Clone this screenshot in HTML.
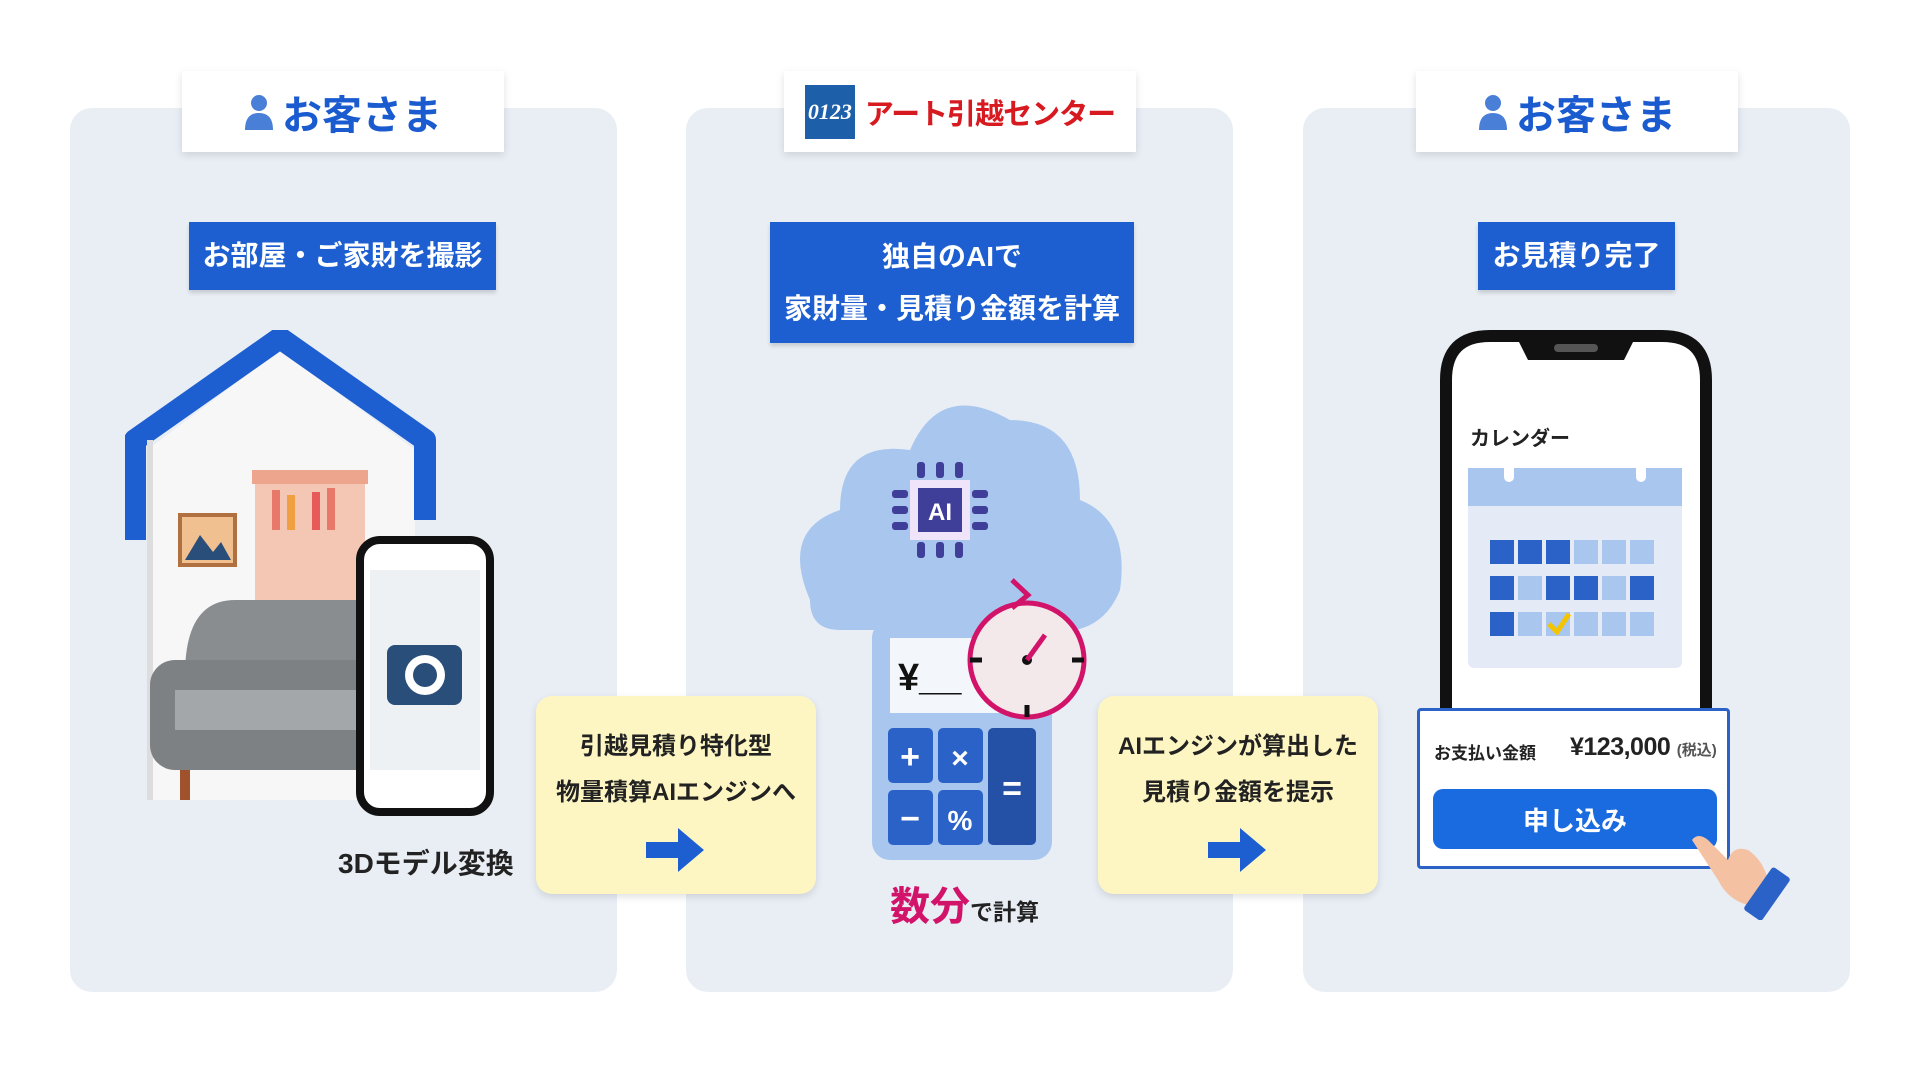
<!DOCTYPE html>
<html><head><meta charset="utf-8"><style>
*{margin:0;padding:0;box-sizing:border-box}
body{width:1920px;height:1080px;background:#fff;position:relative;overflow:hidden;font-family:"Liberation Sans","Noto Sans CJK JP",sans-serif;font-weight:bold}
.abs{position:absolute;white-space:nowrap}
.panel{position:absolute;top:108px;width:547px;height:884px;background:#e9eef5;border-radius:22px}
.tab{position:absolute;top:71px;height:81px;background:#fff;box-shadow:0 3px 8px rgba(0,0,0,.12);display:flex;align-items:center;justify-content:center;font-size:40px;color:#1a5bd0;white-space:nowrap}
.lbl{position:absolute;background:#1d5fd1;color:#fff;font-size:29px;display:flex;align-items:center;justify-content:center;text-align:center;line-height:52px;box-shadow:0 3px 4px rgba(0,0,0,.15);white-space:nowrap}
.ybox{position:absolute;top:696px;width:280px;height:198px;background:#fdf6c3;border-radius:16px;box-shadow:0 3px 8px rgba(0,0,0,.12);text-align:center;font-size:24px;line-height:46px;padding-top:28px;color:#222;white-space:nowrap}
.arr{position:absolute;left:110px;top:130px}
.user{display:inline-block;width:30px;height:40px;margin-right:8px;vertical-align:middle}
</style></head><body>
<div class="panel" style="left:70px"></div>
<div class="panel" style="left:686px"></div>
<div class="panel" style="left:1303px"></div>

<div class="tab" style="left:182px;width:322px"><svg class="user" viewBox="0 0 30 40"><circle cx="15" cy="11" r="8" fill="#4a7fd8"/><path d="M1 38 Q1 21 15 21 Q29 21 29 38Z" fill="#4a7fd8"/></svg>お客さま</div>
<div class="tab" style="left:784px;width:352px;color:#d71920;font-size:29px;letter-spacing:-1px"><span style="background:#1d5fa8;color:#fff;font-style:italic;font-size:22px;padding:14px 3px;margin-right:10px;font-family:'Liberation Serif',serif;letter-spacing:0">0123</span>アート引越センター</div>
<div class="tab" style="left:1416px;width:322px"><svg class="user" viewBox="0 0 30 40"><circle cx="15" cy="11" r="8" fill="#4a7fd8"/><path d="M1 38 Q1 21 15 21 Q29 21 29 38Z" fill="#4a7fd8"/></svg>お客さま</div>

<div class="lbl" style="left:189px;top:222px;width:307px;height:68px;font-size:28px">お部屋・ご家財を撮影</div>
<div class="lbl" style="left:770px;top:222px;width:364px;height:121px;font-size:28px">独自のAIで<br>家財量・見積り金額を計算</div>
<div class="lbl" style="left:1478px;top:222px;width:197px;height:68px;font-size:28px">お見積り完了</div>

<!-- panel1 illustration -->
<svg class="abs" style="left:125px;top:330px" width="400" height="500" viewBox="0 0 400 500">
<path d="M22 470 V120 L155 20 L290 120 V470Z" fill="#f7f7f7"/>
<path d="M10 210 V110 L155 8 L300 110 V190" fill="none" stroke="#1d5fd1" stroke-width="22" stroke-linejoin="round"/>
<rect x="22" y="110" width="6" height="360" fill="#ddd"/>
<rect x="130" y="140" width="110" height="150" fill="#f4c6b4"/>
<rect x="127" y="140" width="116" height="14" fill="#eea58d"/>
<rect x="147" y="160" width="8" height="40" fill="#e8786a"/><rect x="162" y="165" width="8" height="35" fill="#f0a040"/><rect x="187" y="162" width="8" height="38" fill="#e85a5a"/><rect x="202" y="158" width="8" height="42" fill="#e8786a"/>
<rect x="55" y="185" width="55" height="50" fill="#f0c090" stroke="#b07040" stroke-width="4"/><path d="M60 230 L75 205 L88 222 L96 212 L106 230Z" fill="#2a4e7a"/>
<path d="M60 345 Q60 270 110 270 H230 Q260 270 260 345Z" fill="#8a8d90"/>
<rect x="25" y="330" width="280" height="110" rx="25" fill="#7e8184"/>
<rect x="50" y="360" width="230" height="40" fill="#a4a7aa"/>
<rect x="55" y="440" width="10" height="30" fill="#a0522d"/><rect x="275" y="440" width="10" height="30" fill="#a0522d"/>
<rect x="235" y="210" width="130" height="272" rx="20" fill="#fff" stroke="#111" stroke-width="8"/>
<rect x="245" y="240" width="110" height="200" fill="#eef1f4"/>
<rect x="262" y="315" width="75" height="60" rx="8" fill="#2a4e7a"/><circle cx="300" cy="345" r="20" fill="#fff"/><circle cx="300" cy="345" r="12" fill="#2a4e7a"/>
</svg>
<div class="abs" style="left:338px;top:842px;font-size:28px;color:#222">3Dモデル変換</div>

<!-- panel2 illustration -->
<svg class="abs" style="left:780px;top:380px" width="360" height="500" viewBox="0 0 360 500">
<path d="M30 220 Q0 150 60 130 Q60 60 130 70 Q160 0 230 40 Q300 40 300 120 Q350 140 340 210 Q320 260 260 250 H60 Q30 250 30 220Z" fill="#a9c7ee"/>
<rect x="130" y="100" width="60" height="60" fill="#f0e4fb"/><rect x="138" y="108" width="44" height="44" fill="#3f3f9a"/>
<text x="160" y="140" font-size="24" fill="#fff" text-anchor="middle" font-family="Liberation Sans">AI</text>
<g fill="#3f3f9a"><rect x="137" y="82" width="8" height="16" rx="3"/><rect x="156" y="82" width="8" height="16" rx="3"/><rect x="175" y="82" width="8" height="16" rx="3"/><rect x="137" y="162" width="8" height="16" rx="3"/><rect x="156" y="162" width="8" height="16" rx="3"/><rect x="175" y="162" width="8" height="16" rx="3"/><rect x="112" y="110" width="16" height="8" rx="3"/><rect x="112" y="126" width="16" height="8" rx="3"/><rect x="112" y="142" width="16" height="8" rx="3"/><rect x="192" y="110" width="16" height="8" rx="3"/><rect x="192" y="126" width="16" height="8" rx="3"/><rect x="192" y="142" width="16" height="8" rx="3"/></g>
<rect x="92" y="240" width="180" height="240" rx="18" fill="#a9c7ee"/>
<rect x="110" y="258" width="120" height="75" fill="#f3f6fb"/>
<text x="118" y="310" font-size="38" fill="#111" font-family="Liberation Sans">¥__</text>
<rect x="108" y="348" width="45" height="55" rx="5" fill="#2a62c8"/><rect x="158" y="348" width="45" height="55" rx="5" fill="#2a62c8"/>
<rect x="108" y="410" width="45" height="55" rx="5" fill="#2a62c8"/><rect x="158" y="410" width="45" height="55" rx="5" fill="#2a62c8"/>
<rect x="208" y="348" width="48" height="117" rx="5" fill="#2450a5"/>
<text x="130" y="388" font-size="34" fill="#fff" text-anchor="middle">+</text><text x="180" y="388" font-size="30" fill="#fff" text-anchor="middle">×</text><text x="130" y="450" font-size="34" fill="#fff" text-anchor="middle">−</text><text x="180" y="450" font-size="28" fill="#fff" text-anchor="middle">%</text><text x="232" y="420" font-size="34" fill="#fff" text-anchor="middle">=</text>
<circle cx="247" cy="280" r="57" fill="#f3e9ea" stroke="#d2136a" stroke-width="5"/>
<path d="M190 280 h12 M292 280 h12 M247 325 v12" stroke="#111" stroke-width="5"/>
<circle cx="247" cy="280" r="5" fill="#111"/><path d="M247 280 L265 255" stroke="#d2136a" stroke-width="5"/>
<path d="M232 200 L248 215 L232 228" fill="none" stroke="#d2136a" stroke-width="5"/>
</svg>
<div class="abs" style="left:890px;top:874px;color:#d2136a;font-size:40px">数分<span style="font-size:23px;color:#222">で計算</span></div>

<div class="ybox" style="left:536px">引越見積り特化型<br>物量積算AIエンジンへ
<svg class="arr" width="60" height="48" viewBox="0 0 60 48"><rect x="0" y="16" width="34" height="16" fill="#1d5fd1"/><path d="M32 2 L58 24 L32 46Z" fill="#1d5fd1"/></svg></div>
<div class="ybox" style="left:1098px">AIエンジンが算出した<br>見積り金額を提示
<svg class="arr" width="60" height="48" viewBox="0 0 60 48"><rect x="0" y="16" width="34" height="16" fill="#1d5fd1"/><path d="M32 2 L58 24 L32 46Z" fill="#1d5fd1"/></svg></div>

<!-- panel3 phone -->
<svg class="abs" style="left:1436px;top:330px" width="280" height="400" viewBox="0 0 280 400">
<path d="M10 400 V50 Q10 6 54 6 H226 Q270 6 270 50 V400" fill="#fff" stroke="#111" stroke-width="12"/>
<path d="M80 6 H200 L188 30 H92Z" fill="#111"/><rect x="118" y="14" width="44" height="8" rx="4" fill="#555"/>
<rect x="32" y="138" width="214" height="200" rx="6" fill="#e4ebf6"/>
<rect x="32" y="138" width="214" height="38" fill="#a9c7ee"/>
<rect x="68" y="130" width="10" height="22" rx="5" fill="#fff"/><rect x="200" y="130" width="10" height="22" rx="5" fill="#fff"/>
<g fill="#2a62c8">
<rect x="54" y="210" width="24" height="24"/><rect x="82" y="210" width="24" height="24"/><rect x="110" y="210" width="24" height="24"/>
<rect x="54" y="246" width="24" height="24"/><rect x="110" y="246" width="24" height="24"/><rect x="138" y="246" width="24" height="24"/><rect x="194" y="246" width="24" height="24"/>
<rect x="54" y="282" width="24" height="24"/></g>
<g fill="#a9c7ee"><rect x="138" y="210" width="24" height="24"/><rect x="166" y="210" width="24" height="24"/><rect x="194" y="210" width="24" height="24"/><rect x="82" y="246" width="24" height="24"/><rect x="166" y="246" width="24" height="24"/><rect x="82" y="282" width="24" height="24"/><rect x="110" y="282" width="24" height="24"/><rect x="138" y="282" width="24" height="24"/><rect x="166" y="282" width="24" height="24"/><rect x="194" y="282" width="24" height="24"/></g>
<path d="M113 294 L121 302 L133 284" fill="none" stroke="#f5c400" stroke-width="5"/>
</svg>
<div class="abs" style="left:1470px;top:422px;font-size:20px;color:#222">カレンダー</div>
<div class="abs" style="left:1417px;top:708px;width:313px;height:161px;background:#fff;border:3px solid #2a62c8;border-radius:4px">
<div class="abs" style="left:14px;top:28px;font-size:17px;color:#222">お支払い金額</div>
<div class="abs" style="left:150px;top:22px;font-size:25px;color:#222;letter-spacing:-0.5px">¥123,000 <span style="font-size:15px;color:#555;letter-spacing:0">(税込)</span></div>
<div class="abs" style="left:13px;top:78px;width:284px;height:60px;background:#1a6ae0;border-radius:10px;color:#fff;font-size:26px;display:flex;align-items:center;justify-content:center">申し込み</div>
</div>
<svg class="abs" style="left:1688px;top:820px" width="110" height="100" viewBox="0 0 110 100">
<path d="M4 20 Q10 12 20 20 L40 40 Q45 25 60 30 Q75 40 80 60 L60 85 Q40 80 30 60Z" fill="#f5c1a3"/>
<rect x="68" y="48" width="22" height="52" rx="3" transform="rotate(35 79 74)" fill="#2a62c8"/>
</svg>
</body></html>
